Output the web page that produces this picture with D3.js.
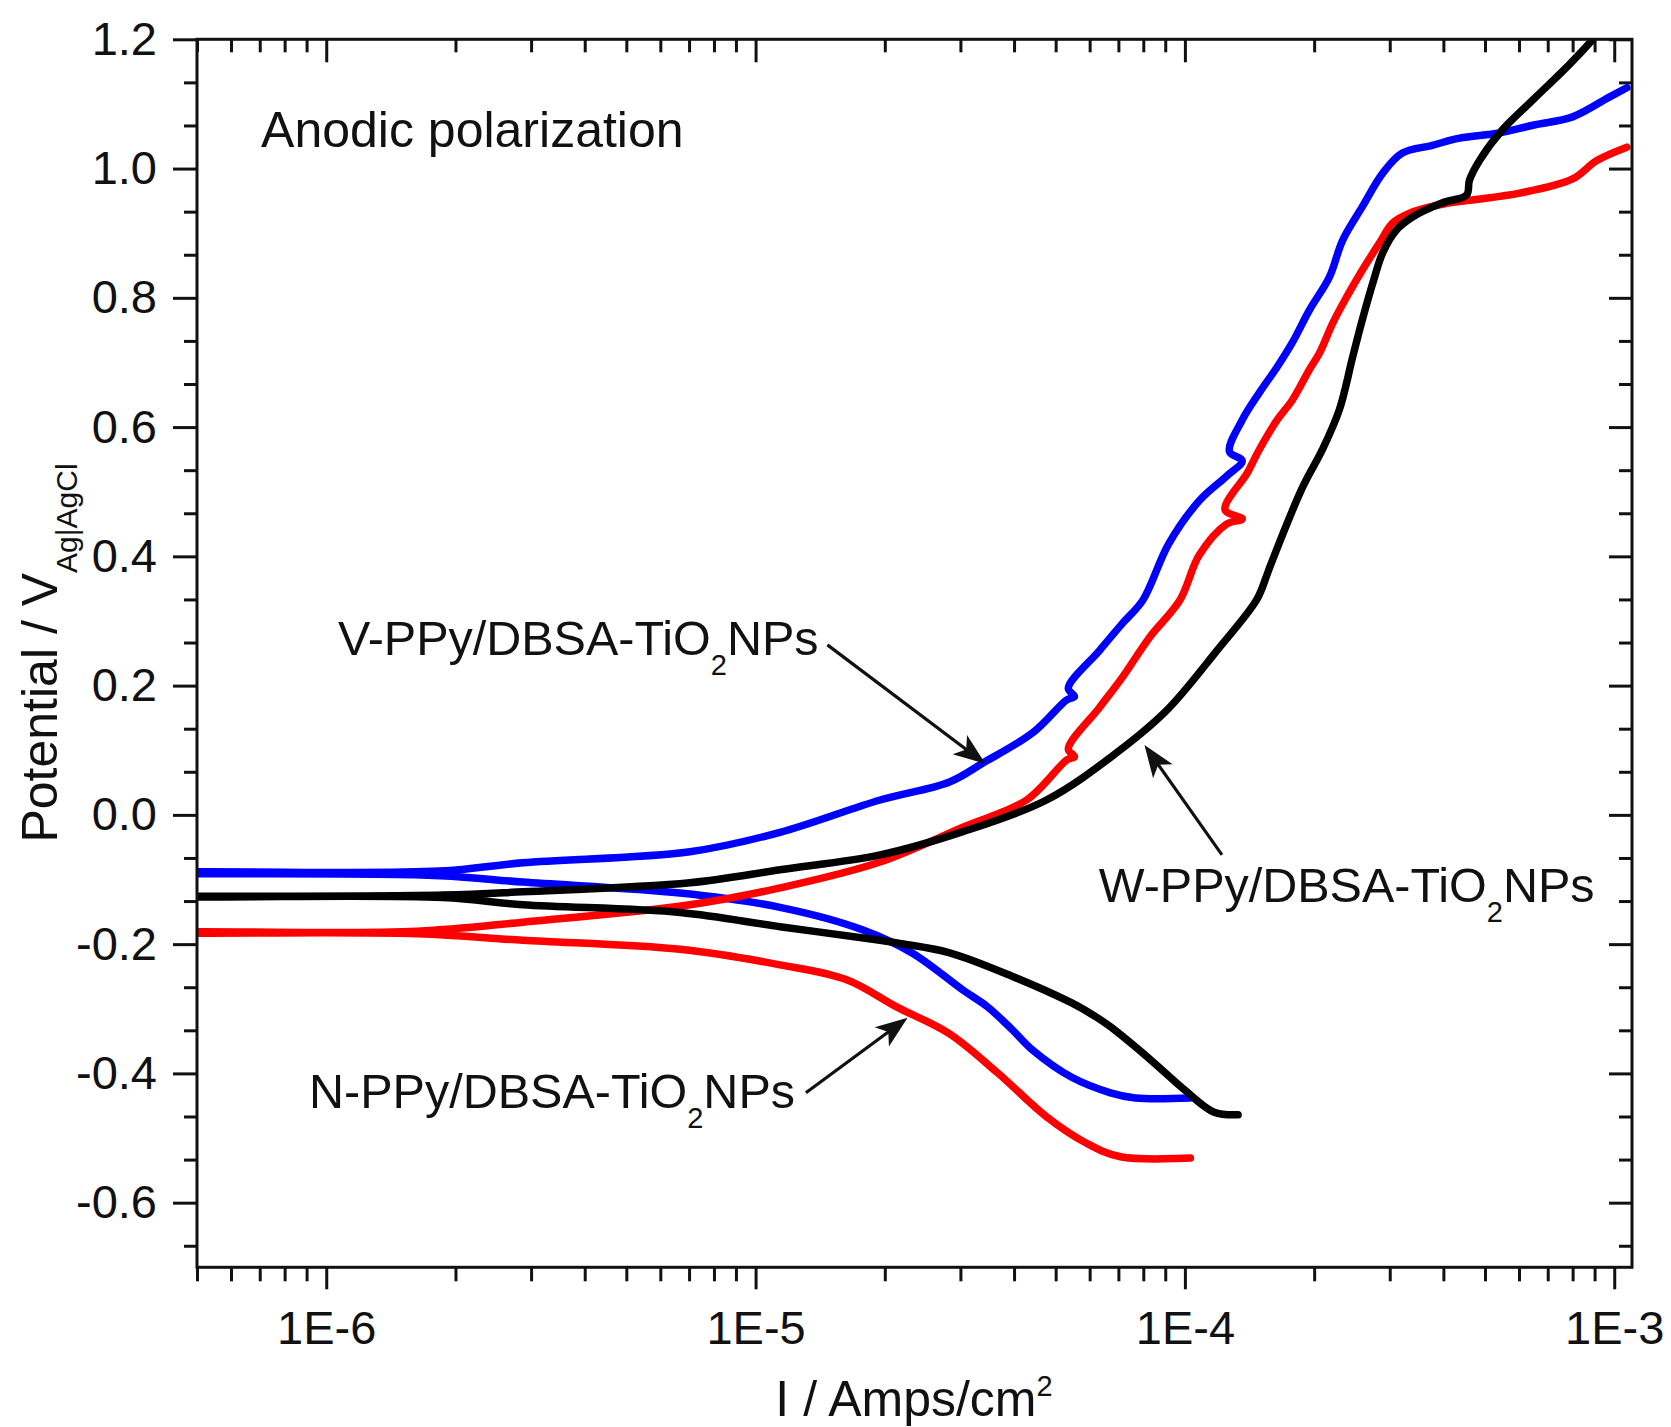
<!DOCTYPE html>
<html>
<head>
<meta charset="utf-8">
<script src="https://cdn.jsdelivr.net/npm/d3@7"></script>
<style>
  html, body { margin: 0; padding: 0; background: #ffffff; }
  svg { display: block; }
</style>
</head>
<body>
<svg id="chart" width="1671" height="1427"></svg>
<script>
// ---------------- data ----------------
const xMajorValues = [1e-6, 1e-5, 1e-4, 1e-3];
const xMajorLabels = ["1E-6", "1E-5", "1E-4", "1E-3"];
const yMajorValues = [-0.6, -0.4, -0.2, 0.0, 0.2, 0.4, 0.6, 0.8, 1.0, 1.2];
const yMajorLabels = ["-0.6", "-0.4", "-0.2", "0.0", "0.2", "0.4", "0.6", "0.8", "1.0", "1.2"];

const seriesPrefix = ["V-PPy/DBSA-TiO", "N-PPy/DBSA-TiO", "W-PPy/DBSA-TiO"];
const seriesColors = ["#0000ff", "#ff0000", "#000000"];

// V-PPy/DBSA-TiO2NPs (blue): current (A/cm2), potential (V)
const vCurrent = [1.03e-4, 7.67e-5, 6.71e-5, 5.45e-5, 4.42e-5, 3.97e-5, 3.47e-5, 3.04e-5, 2.32e-5, 1.78e-5, 1.14e-5, 6.67e-6, 2.87e-6, 1.84e-6, 5.0e-7, 1.0e-7,
  1.0e-7, 5.0e-7, 1.84e-6, 2.87e-6, 7.03e-6, 1.14e-5, 1.95e-5, 2.83e-5, 3.38e-5, 4.42e-5, 5.31e-5, 5.53e-5, 5.35e-5, 6.34e-5, 7.17e-5, 7.98e-5, 9.16e-5, 1.08e-4, 1.25e-4, 1.36e-4, 1.27e-4, 1.36e-4, 1.49e-4, 1.64e-4, 1.78e-4, 1.95e-4, 2.17e-4, 2.33e-4, 2.59e-4, 2.89e-4, 3.21e-4, 3.77e-4, 4.36e-4, 5.40e-4, 6.46e-4, 8.00e-4, 9.76e-4, 1.07e-3];
const vPotential = [-0.438, -0.438, -0.430, -0.406, -0.364, -0.333, -0.297, -0.271, -0.214, -0.178, -0.143, -0.121, -0.104, -0.094, -0.091, -0.090,
  -0.089, -0.088, -0.087, -0.074, -0.057, -0.027, 0.023, 0.051, 0.080, 0.127, 0.178, 0.183, 0.196, 0.255, 0.297, 0.332, 0.419, 0.486, 0.524, 0.548, 0.562, 0.611, 0.653, 0.693, 0.731, 0.781, 0.832, 0.889, 0.941, 0.993, 1.024, 1.036, 1.047, 1.055, 1.067, 1.080, 1.111, 1.125];

// N-PPy/DBSA-TiO2NPs (red)
const nCurrent = [1.03e-4, 7.08e-5, 5.90e-5, 4.76e-5, 3.66e-5, 2.82e-5, 2.13e-5, 1.63e-5, 1.14e-5, 6.67e-6, 2.87e-6, 1.63e-6, 5.0e-7, 1.0e-7,
  1.0e-7, 5.0e-7, 1.63e-6, 2.87e-6, 7.03e-6, 1.14e-5, 1.95e-5, 3.04e-5, 4.28e-5, 5.31e-5, 5.53e-5, 5.35e-5, 6.34e-5, 7.17e-5, 8.28e-5, 9.73e-5, 1.08e-4, 1.25e-4, 1.36e-4, 1.24e-4, 1.40e-4, 1.49e-4, 1.64e-4, 1.78e-4, 1.95e-4, 2.06e-4, 2.21e-4, 2.38e-4, 2.59e-4, 2.84e-4, 3.05e-4, 3.34e-4, 3.92e-4, 4.60e-4, 6.02e-4, 8.00e-4, 9.09e-4, 1.07e-3];
const nPotential = [-0.531, -0.529, -0.508, -0.467, -0.399, -0.338, -0.297, -0.255, -0.232, -0.208, -0.194, -0.184, -0.183, -0.182,
  -0.181, -0.181, -0.180, -0.166, -0.139, -0.113, -0.073, -0.019, 0.023, 0.085, 0.090, 0.102, 0.167, 0.214, 0.275, 0.332, 0.402, 0.450, 0.458, 0.472, 0.530, 0.565, 0.611, 0.642, 0.689, 0.715, 0.761, 0.801, 0.843, 0.885, 0.916, 0.931, 0.944, 0.951, 0.962, 0.984, 1.012, 1.033];

// W-PPy/DBSA-TiO2NPs (black)
const wCurrent = [1.33e-4, 1.17e-4, 1.00e-4, 8.32e-5, 6.71e-5, 6.22e-5, 5.45e-5, 3.97e-5, 2.82e-5, 2.17e-5, 1.95e-5, 1.14e-5, 6.67e-6, 2.87e-6, 1.87e-6, 5.0e-7, 1.0e-7,
  1.0e-7, 5.0e-7, 1.87e-6, 2.87e-6, 7.03e-6, 1.14e-5, 1.95e-5, 3.04e-5, 4.76e-5, 6.93e-5, 9.08e-5, 1.19e-4, 1.47e-4, 1.55e-4, 1.58e-4, 1.88e-4, 2.09e-4, 2.29e-4, 2.46e-4, 2.59e-4, 2.74e-4, 2.89e-4, 3.11e-4, 3.39e-4, 3.98e-4, 4.53e-4, 4.60e-4, 4.86e-4, 5.49e-4, 6.46e-4, 7.75e-4, 8.91e-4, 9.60e-4];
const wPotential = [-0.464, -0.460, -0.426, -0.379, -0.328, -0.313, -0.291, -0.250, -0.213, -0.199, -0.194, -0.173, -0.151, -0.139, -0.128, -0.127, -0.127,
  -0.126, -0.126, -0.124, -0.119, -0.105, -0.085, -0.062, -0.026, 0.023, 0.096, 0.162, 0.255, 0.333, 0.370, 0.385, 0.507, 0.565, 0.627, 0.709, 0.766, 0.823, 0.870, 0.905, 0.925, 0.947, 0.959, 0.982, 1.013, 1.060, 1.106, 1.157, 1.200, 1.230];

// annotations (data units)
const annotationText = "Anodic polarization";
const annotationI = 7.05e-7, annotationE = 1.033;
const labelI = [1.065e-6, 9.12e-7, 6.30e-5];
const labelE = [0.247, -0.454, -0.135];
const arrowFromI = [1.47e-5, 1.31e-5, 1.22e-4];
const arrowFromE = [0.263, -0.430, -0.062];
const arrowToI = [3.43e-5, 2.26e-5, 8.05e-5];
const arrowToE = [0.079, -0.314, 0.108];

// ---------------- layout ----------------
const FONT = '"Liberation Sans", Arial, Helvetica, sans-serif';
const INK = "#111111";
const L = 197, R = 1632, T = 39.3, B = 1267.3;

const svg = d3.select("#chart");
const x = d3.scaleLog().domain([5e-7, 1.1e-3]).range([L, R]);
const y = d3.scaleLinear().domain([-0.7, 1.2]).range([B, T]);

const xMinor = [];
for (let e = -7; e <= -3; e++) {
  for (let m = 2; m <= 9; m++) {
    const v = m * Math.pow(10, e);
    if (v >= 4.999e-7 && v <= 1.1e-3) xMinor.push(v);
  }
}
const yMinor = d3.range(-10, 19).filter(k => k % 3 !== 0).map(k => k / 15);

function styleAxis(g) {
  g.select(".domain").remove();
  g.selectAll(".tick line").attr("stroke", INK).attr("stroke-width", 3);
  g.selectAll(".tick text").attr("font-family", FONT).attr("font-size", 47).attr("fill", INK);
}

// left axis (outward)
svg.append("g").attr("transform", `translate(${L},0)`)
  .call(d3.axisLeft(y).tickValues(yMajorValues).tickFormat(d => yMajorLabels[yMajorValues.indexOf(d)]).tickSize(24).tickPadding(16))
  .call(styleAxis);
svg.append("g").attr("transform", `translate(${L},0)`)
  .call(d3.axisLeft(y).tickValues(yMinor).tickFormat("").tickSize(13)).call(styleAxis);
// right axis (inward)
svg.append("g").attr("transform", `translate(${R},0)`)
  .call(d3.axisRight(y).tickValues(yMajorValues).tickFormat("").tickSize(-23)).call(styleAxis);
svg.append("g").attr("transform", `translate(${R},0)`)
  .call(d3.axisRight(y).tickValues(yMinor).tickFormat("").tickSize(-13)).call(styleAxis);
// bottom axis (outward)
svg.append("g").attr("transform", `translate(0,${B})`)
  .call(d3.axisBottom(x).tickValues(xMajorValues).tickFormat(d => xMajorLabels[xMajorValues.indexOf(d)]).tickSize(22).tickPadding(21))
  .call(styleAxis);
svg.append("g").attr("transform", `translate(0,${B})`)
  .call(d3.axisBottom(x).tickValues(xMinor).tickFormat("").tickSize(14)).call(styleAxis);
// top axis (inward)
svg.append("g").attr("transform", `translate(0,${T})`)
  .call(d3.axisTop(x).tickValues(xMajorValues).tickFormat("").tickSize(-23)).call(styleAxis);
svg.append("g").attr("transform", `translate(0,${T})`)
  .call(d3.axisTop(x).tickValues(xMinor).tickFormat("").tickSize(-13)).call(styleAxis);

// clip
svg.append("defs").append("clipPath").attr("id", "plotClip")
  .append("rect").attr("x", L).attr("y", T).attr("width", R - L).attr("height", B - T);

// curves
const line = d3.line().x(d => x(d[0])).y(d => y(d[1])).curve(d3.curveCatmullRom.alpha(0.5));
const seriesData = [
  d3.zip(vCurrent, vPotential),
  d3.zip(nCurrent, nPotential),
  d3.zip(wCurrent, wPotential)
];
const curves = svg.append("g").attr("clip-path", "url(#plotClip)");
seriesData.forEach((pts, i) => {
  curves.append("path").datum(pts)
    .attr("d", line)
    .attr("fill", "none")
    .attr("stroke", seriesColors[i])
    .attr("stroke-width", 7.5)
    .attr("stroke-linejoin", "round")
    .attr("stroke-linecap", "round");
});

// frame
svg.append("rect").attr("x", L).attr("y", T).attr("width", R - L).attr("height", B - T)
  .attr("fill", "none").attr("stroke", INK).attr("stroke-width", 3);

// axis titles
const yTitle = svg.append("text")
  .attr("transform", `translate(57,653) rotate(-90)`)
  .attr("text-anchor", "middle")
  .attr("font-family", FONT).attr("font-size", 50).attr("fill", INK);
yTitle.append("tspan").text("Potential / V");
yTitle.append("tspan").attr("font-size", 30).attr("dy", 20).text("Ag|AgCl");

const xTitle = svg.append("text")
  .attr("x", 914).attr("y", 1416)
  .attr("text-anchor", "middle")
  .attr("font-family", FONT).attr("font-size", 50).attr("fill", INK);
xTitle.append("tspan").text("I / Amps/cm");
xTitle.append("tspan").attr("font-size", 29).attr("dy", -20).text("2");

// annotation
svg.append("text")
  .attr("x", x(annotationI)).attr("y", y(annotationE))
  .attr("font-family", FONT).attr("font-size", 50).attr("fill", INK)
  .text(annotationText);

// series labels and arrows
seriesPrefix.forEach((p, i) => {
  const t = svg.append("text")
    .attr("x", x(labelI[i])).attr("y", y(labelE[i]))
    .attr("font-family", FONT).attr("font-size", 48.5).attr("fill", INK);
  t.append("tspan").text(p);
  t.append("tspan").attr("font-size", 29).attr("dy", 20).text("2");
  t.append("tspan").attr("dy", -20).text("NPs");

  const x0 = x(arrowFromI[i]), y0 = y(arrowFromE[i]);
  const x1 = x(arrowToI[i]), y1 = y(arrowToE[i]);
  const ang = Math.atan2(y1 - y0, x1 - x0);
  const len = Math.hypot(x1 - x0, y1 - y0);
  const g = svg.append("g").attr("transform", `translate(${x0},${y0}) rotate(${ang * 180 / Math.PI})`);
  g.append("line").attr("x1", 0).attr("y1", 0).attr("x2", len - 16).attr("y2", 0)
    .attr("stroke", INK).attr("stroke-width", 3.2);
  g.append("path")
    .attr("d", `M${len},0 L${len - 32},-12 L${len - 24},0 L${len - 32},12 Z`)
    .attr("fill", INK);
});
</script>
</body>
</html>
